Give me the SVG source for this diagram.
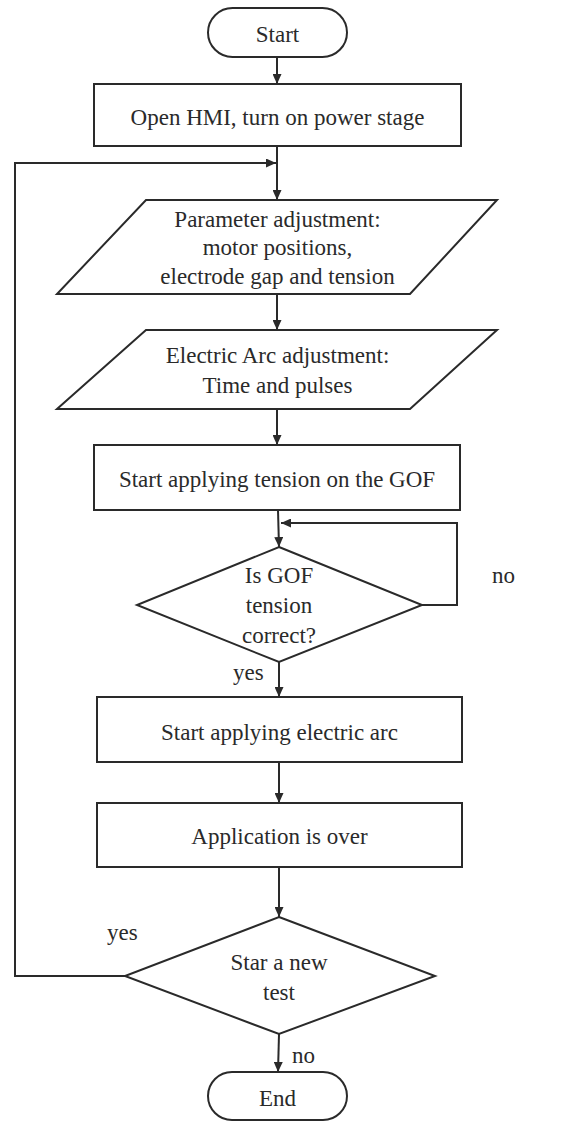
<svg xmlns="http://www.w3.org/2000/svg" width="587" height="1122" viewBox="0 0 587 1122" font-family="Liberation Serif, DejaVu Serif, serif">
<style>
.shape{fill:#fff;stroke:#2a2a2a;stroke-width:2}
.conn{fill:none;stroke:#2a2a2a;stroke-width:2}
text{font-size:23px;fill:#2a2a2a;text-anchor:middle}
.lbl{text-anchor:start}
</style>
<defs>
<marker id="arr" markerUnits="userSpaceOnUse" markerWidth="10" markerHeight="9" refX="10" refY="4.5" orient="auto">
<path d="M0,0 L10,4.5 L0,9 z" fill="#2a2a2a"/>
</marker>
</defs>
<rect width="587" height="1122" fill="#fff"/>
<g id="connectors">
<line class="conn" x1="277" y1="57" x2="277" y2="84" marker-end="url(#arr)"/>
<line class="conn" x1="277" y1="146" x2="277" y2="200" marker-end="url(#arr)"/>
<polyline class="conn" points="125,976 15,976 15,163 276,163" marker-end="url(#arr)"/>
<line class="conn" x1="277" y1="294" x2="277" y2="330" marker-end="url(#arr)"/>
<line class="conn" x1="277" y1="410" x2="277" y2="445" marker-end="url(#arr)"/>
<line class="conn" x1="278" y1="510" x2="279" y2="547" marker-end="url(#arr)"/>
<polyline class="conn" points="422,605 457,605 457,523 281,523" marker-end="url(#arr)"/>
<line class="conn" x1="279" y1="662" x2="279" y2="697" marker-end="url(#arr)"/>
<line class="conn" x1="279" y1="762" x2="279" y2="803" marker-end="url(#arr)"/>
<line class="conn" x1="279" y1="867" x2="279" y2="917" marker-end="url(#arr)"/>
<line class="conn" x1="279" y1="1034" x2="278" y2="1072" marker-end="url(#arr)"/>
<text class="lbl" x="492" y="583">no</text>
<text class="lbl" x="233" y="680">yes</text>
<text class="lbl" x="107" y="940">yes</text>
<text class="lbl" x="292" y="1063">no</text>
</g>
<g id="start">
<rect class="shape" x="208" y="8" width="139" height="49" rx="24.5"/>
<text x="277.5" y="42">Start</text>
</g>
<g id="open-hmi">
<rect class="shape" x="94" y="84" width="367" height="62"/>
<text x="277.5" y="125">Open HMI, turn on power stage</text>
</g>
<g id="param-adjust">
<polygon class="shape" points="146,200 497,200 410,294 57,294"/>
<text x="277.5" y="227">Parameter adjustment:</text>
<text x="277.5" y="255">motor positions,</text>
<text x="277.5" y="284">electrode gap and tension</text>
</g>
<g id="arc-adjust">
<polygon class="shape" points="146,330 497,330 410,409 57,409"/>
<text x="277.5" y="363">Electric Arc adjustment:</text>
<text x="277.5" y="393">Time and pulses</text>
</g>
<g id="apply-tension">
<rect class="shape" x="94" y="445" width="366" height="65"/>
<text x="277" y="487">Start applying tension on the GOF</text>
</g>
<g id="tension-check">
<polygon class="shape" points="279,547 422,605 279,662 137,605"/>
<text x="279" y="583">Is GOF</text>
<text x="279" y="613">tension</text>
<text x="279" y="643">correct?</text>
</g>
<g id="apply-arc">
<rect class="shape" x="97" y="697" width="365" height="65"/>
<text x="279.5" y="740">Start applying electric arc</text>
</g>
<g id="app-over">
<rect class="shape" x="97" y="803" width="365" height="64"/>
<text x="279.5" y="844">Application is over</text>
</g>
<g id="new-test">
<polygon class="shape" points="279,917 435,976 279,1034 125,976"/>
<text x="279" y="970">Star a new</text>
<text x="279" y="1000">test</text>
</g>
<g id="end">
<rect class="shape" x="208" y="1072" width="139" height="48" rx="24"/>
<text x="277.5" y="1106">End</text>
</g>
</svg>
